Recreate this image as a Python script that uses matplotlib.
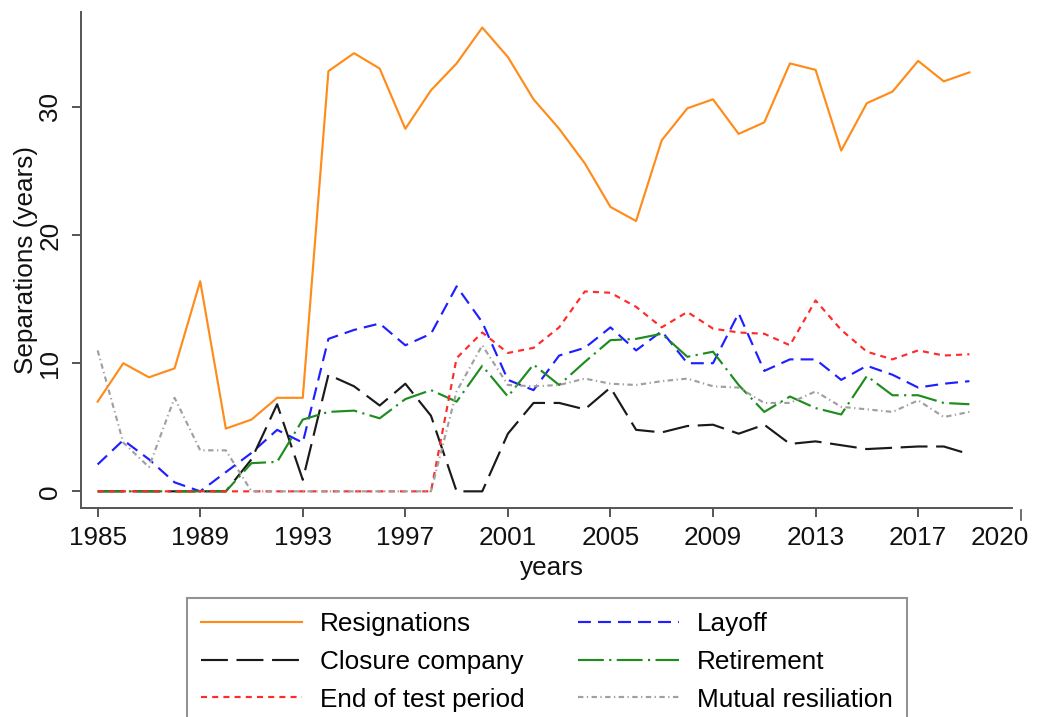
import numpy as np
import matplotlib
matplotlib.use("Agg")
import matplotlib.pyplot as plt

plt.rcParams['font.family'] = ['Liberation Sans', 'DejaVu Sans']

years = list(range(1985, 2020))

# values
resignations = [7.0, 10.0, 8.9, 9.6, 16.4, 4.9, 5.6, 7.3, 7.3, 32.8,
                34.2, 33.0, 28.3, 31.3, 33.4, 36.2, 33.9, 30.6, 28.3, 25.6,
                22.2, 21.1, 27.4, 29.9, 30.6, 27.9, 28.8, 33.4, 32.9, 26.6,
                30.3, 31.2, 33.6, 32.0, 32.7]
layoff = [2.1, 4.0, 2.5, 0.7, 0.0, 1.5, 3.0, 4.8, 3.8, 11.9,
          12.6, 13.1, 11.4, 12.3, 16.0, 13.2, 8.7, 7.9, 10.6, 11.2,
          12.8, 11.0, 12.5, 10.0, 10.0, 13.9, 9.4, 10.3, 10.3, 8.7,
          9.8, 9.1, 8.1, 8.4, 8.6]
closure = [0, 0, 0, 0, 0, 0, 2.5, 6.8, 0.9, 9.1,
           8.2, 6.7, 8.4, 5.9, 0.0, 0.0, 4.5, 6.9, 6.9, 6.4,
           8.1, 4.8, 4.6, 5.1, 5.2, 4.5, 5.2, 3.7, 3.9, 3.6,
           3.3, 3.4, 3.5, 3.5, 2.9]
retirement = [0, 0, 0, 0, 0, 0, 2.2, 2.3, 5.6, 6.2,
              6.3, 5.7, 7.2, 7.9, 7.0, 9.8, 7.4, 9.9, 8.3, 10.1,
              11.8, 11.9, 12.3, 10.5, 10.9, 8.3, 6.2, 7.4, 6.5, 6.0,
              9.0, 7.5, 7.5, 6.9, 6.8]
end_test = [0, 0, 0, 0, 0, 0, 0, 0, 0, 0,
            0, 0, 0, 0, 10.4, 12.4, 10.8, 11.2, 12.8, 15.6,
            15.5, 14.4, 12.8, 14.0, 12.7, 12.4, 12.3, 11.4, 14.9, 12.6,
            10.9, 10.3, 11.0, 10.6, 10.7]
mutual = [11.0, 3.8, 1.9, 7.3, 3.2, 3.2, 0, 0, 0, 0,
          0, 0, 0, 0, 7.8, 11.4, 8.3, 8.2, 8.3, 8.8,
          8.4, 8.3, 8.6, 8.8, 8.2, 8.1, 6.9, 6.9, 7.8, 6.6,
          6.4, 6.2, 7.1, 5.8, 6.2]

fs = 18.8
fig = plt.figure(figsize=(10.37, 7.17), dpi=100)
ax = fig.add_axes([0.0781, 0.2915, 0.9074, 0.6915])

lw = 1.55
h_res, = ax.plot(years, resignations, color='#ff8c1a', lw=lw, label='Resignations')
h_lay, = ax.plot(years, layoff, color='#1f1fff', lw=lw, ls=(0, (6, 3.3)), label='Layoff')
h_clo, = ax.plot(years, closure, color='#1a1a1a', lw=lw, ls=(0, (12.5, 4)), label='Closure company')
h_ret, = ax.plot(years, retirement, color='#1e8c1e', lw=lw, ls=(0, (12, 2.5, 1, 2.5)), label='Retirement')
h_end, = ax.plot(years, end_test, color='#ff2a2a', lw=lw, ls=(0, (2.8, 2.4)), label='End of test period')
h_mut, = ax.plot(years, mutual, color='#a0a0a0', lw=lw, ls=(0, (2.5, 1.6, 0.6, 1.6)), label='Mutual resiliation')

ax.set_xlim(1984.35, 2021.05)
ax.set_ylim(-1.3, 37.4)

for s in ['top', 'right']:
    ax.spines[s].set_visible(False)
for s in ['left', 'bottom']:
    ax.spines[s].set_color('#555555')
    ax.spines[s].set_linewidth(1.4)
ax.spines['bottom'].set_bounds(1984.35, 2020.66)

xt = list(range(1985, 2018, 4)) + [2020.19]
ax.set_xticks(xt)
ax.set_xticklabels([str(y) for y in range(1985, 2018, 4)] + ['2020'])
ax.xaxis.get_major_ticks()[-1].tick1line.set_visible(False)
ax.plot([2021, 2021], [-1.45, -2.2], color='#555555', lw=1.2, clip_on=False)

ax.set_yticks([0, 10, 20, 30])
ax.tick_params(axis='both', colors='#555555', labelcolor='#111111', labelsize=fs,
               length=6.5, width=1.4)
ax.tick_params(axis='x', pad=6.5)
ax.tick_params(axis='y', pad=7, labelrotation=90)
for lab in ax.get_yticklabels():
    lab.set_va('center')

ax.set_xlabel('years', fontsize=fs, color='#111111', labelpad=4)
ax.set_ylabel('Separations (years)', fontsize=fs, color='#111111', labelpad=0)

handles = [h_res, h_clo, h_end, h_lay, h_ret, h_mut]
leg = fig.legend(handles=handles, loc='upper left', bbox_to_anchor=(187 / 1037, 1 - 598 / 717),
                 ncol=2, fontsize=fs, frameon=True, fancybox=False, borderaxespad=0,
                 borderpad=0.55, handlelength=3.85, handletextpad=0.7, columnspacing=2.05,
                 labelspacing=0.52)
leg.get_frame().set_edgecolor('#777777')
leg.get_frame().set_linewidth(1.5)

fig.savefig('out.png', dpi=100)
